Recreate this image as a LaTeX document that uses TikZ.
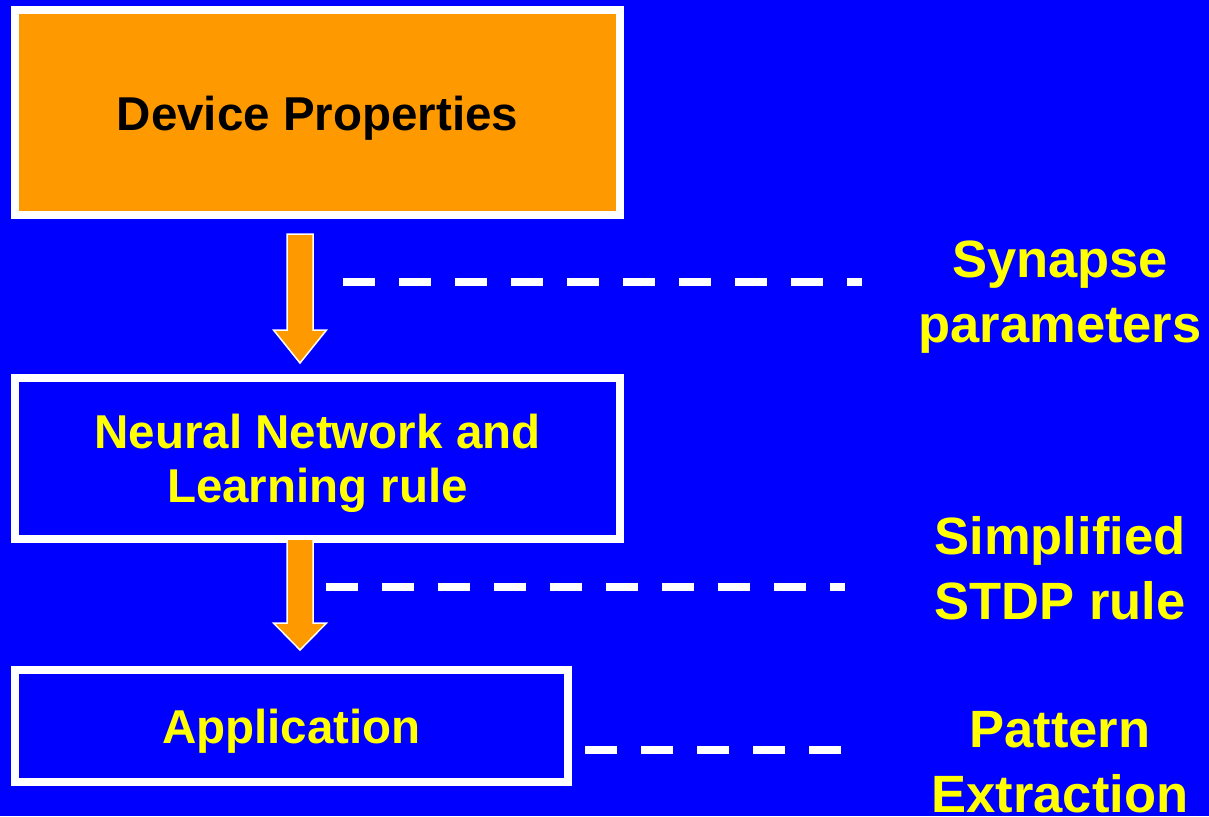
\documentclass[tikz,border=0pt]{standalone}
\usepackage{fontspec}
\setmainfont{Liberation Sans}
\usetikzlibrary{calc}
\definecolor{slideblue}{HTML}{0000FF}
\definecolor{boxorange}{HTML}{FF9900}
\definecolor{labelyellow}{HTML}{FFFF00}
\begin{document}
\begin{tikzpicture}[x=1pt,y=-1pt,
  framebox/.style={draw=white, line width=8pt},
  boxtext/.style={font=\fontsize{47.5}{54}\selectfont\bfseries, align=center, inner sep=0pt, anchor=base},
  sidelabel/.style={font=\fontsize{52.5}{65}\selectfont\bfseries, text=labelyellow, align=center, inner sep=0pt, anchor=base},
  leader/.style={draw=white, line width=8pt, dash pattern=on 32pt off 24pt},
  blockarrow/.style={fill=boxorange, draw=white, line width=1.5pt, line join=miter}]
  % slide background
  \fill[slideblue] (0,0) rectangle (1209,816);
  \useasboundingbox (0,0) rectangle (1209,816);

  % the three stages (multi-line texts are placed by their last baseline)
  \draw[framebox, fill=boxorange] (15,10.5) rectangle (620,215);
  \node[boxtext, text=black] (devtext) at (317.5,130) {Device Properties};

  \draw[framebox] (15,378) rectangle (620,538.5);
  \node[boxtext, text=labelyellow] (nntext) at (317.5,502)
    {Neural Network and\hspace{13pt}\\Learning rule};

  \draw[framebox] (15,670) rectangle (568,782);
  \node[boxtext, text=labelyellow] (apptext) at (291.5,743) {Application};

  % block arrows between the stages
  \coordinate (a1top) at (300,234);
  \coordinate (a1neck) at (300,330);
  \coordinate (a1tip) at (300,363);
  \coordinate (a2top) at (300,539);
  \coordinate (a2neck) at (300,623);
  \coordinate (a2tip) at (300,650);
  \foreach \t/\n/\p in {a1top/a1neck/a1tip, a2top/a2neck/a2tip}{
    \draw[blockarrow]
      ($(\t)+(-13,0)$) -- ($(\t)+(13,0)$) -- ($(\n)+(13,0)$) -- ($(\n)+(26.5,0)$)
      -- (\p) -- ($(\n)+(-26.5,0)$) -- ($(\n)+(-13,0)$) -- cycle;
  }

  % leader lines to the side labels
  \coordinate (l1a) at (343,282);  \coordinate (l1b) at (862,282);
  \coordinate (l2a) at (326,587);  \coordinate (l2b) at (845,587);
  \coordinate (l3a) at (585,750);  \coordinate (l3b) at (842,750);
  \draw[leader] (l1a) -- (l1b);
  \draw[leader] (l2a) -- (l2b);
  \draw[leader] (l3a) -- (l3b);

  % side labels
  \node[sidelabel] (syn) at (1060,342) {Synapse\\parameters};
  \node[sidelabel] (stdp) at (1060,619) {Simplified\\STDP rule};
  \node[sidelabel] (pat) at (1060,812) {Pattern\\Extraction};
\end{tikzpicture}
\end{document}
